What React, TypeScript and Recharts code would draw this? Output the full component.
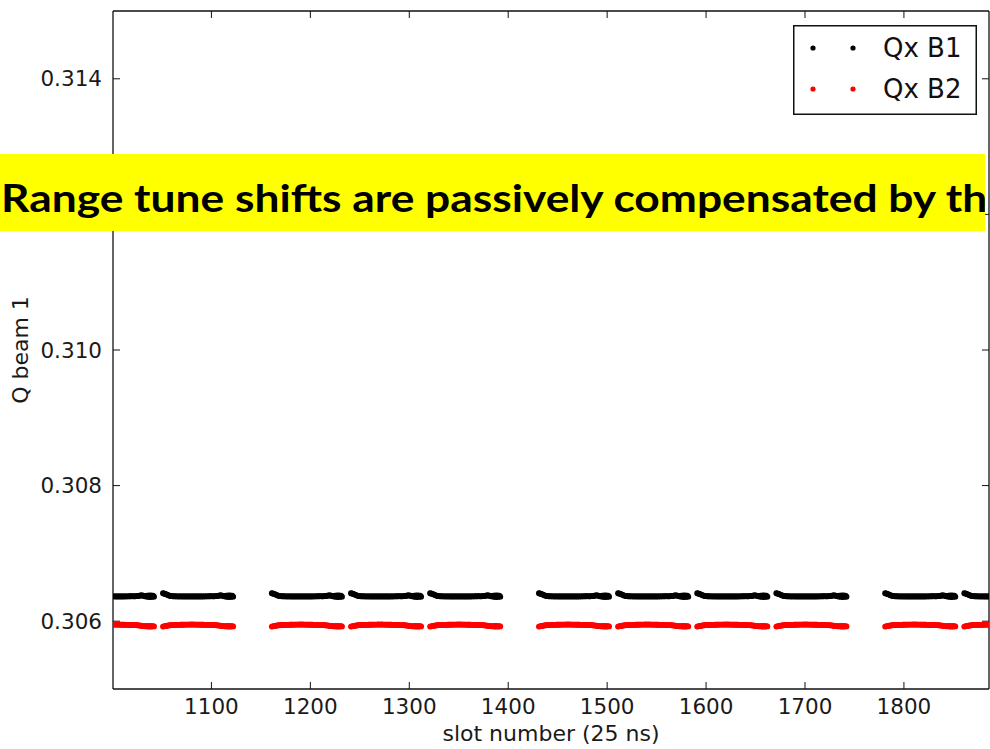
import React from 'react';
import { ScatterChart, Scatter, XAxis, YAxis, Legend } from 'recharts';

const SLOT_DOMAIN: [number, number] = [1000.5, 1886];
const Q_DOMAIN: [number, number] = [0.305, 0.315];
const SLOT_TICKS = [1100, 1200, 1300, 1400, 1500, 1600, 1700, 1800];
const Q_TICKS = [0.306, 0.308, 0.31, 0.312, 0.314];
const BATCH_STARTS = [971, 1051, 1161, 1241, 1321, 1431, 1511, 1591, 1671, 1781, 1861];

// tune of each bunch position inside a 72-bunch batch
const B1_BUNCH_Q = [
  0.306412, 0.306409, 0.306404, 0.306398, 0.306392, 0.306386, 0.30638, 0.306375, 0.306371, 0.306369,
  0.306368, 0.306367, 0.306368, 0.306367, 0.306366, 0.306367, 0.306366, 0.306366, 0.306367, 0.306366,
  0.306366, 0.306365, 0.306366, 0.306365, 0.306366, 0.306365, 0.306365, 0.306366, 0.306365, 0.306365,
  0.306365, 0.306366, 0.306365, 0.306365, 0.306366, 0.306365, 0.306366, 0.306366, 0.306365, 0.306366,
  0.306366, 0.306366, 0.306367, 0.306366, 0.306367, 0.306367, 0.306368, 0.306367, 0.306368, 0.306369,
  0.306367, 0.306367, 0.306368, 0.306369, 0.30637, 0.306372, 0.306375, 0.306379, 0.306382, 0.306381,
  0.306377, 0.306372, 0.306368, 0.306366, 0.306376, 0.306358, 0.30638, 0.306356, 0.306379, 0.306358,
  0.306377, 0.306362,
];
const B2_BUNCH_Q = [
  0.305921, 0.305924, 0.305927, 0.30593, 0.305933, 0.305936, 0.305938, 0.30594, 0.305941, 0.305942,
  0.305943, 0.305944, 0.305944, 0.305945, 0.305946, 0.305946, 0.305947, 0.305947, 0.305948, 0.305948,
  0.305949, 0.305949, 0.305949, 0.30595, 0.30595, 0.30595, 0.30595, 0.30595, 0.305951, 0.30595,
  0.30595, 0.305951, 0.30595, 0.30595, 0.30595, 0.305949, 0.30595, 0.305949, 0.305949, 0.305948,
  0.305948, 0.305948, 0.305947, 0.305947, 0.305946, 0.305946, 0.305945, 0.305945, 0.305944, 0.305944,
  0.305943, 0.305943, 0.305942, 0.305941, 0.30594, 0.305939, 0.305937, 0.305935, 0.305933, 0.305931,
  0.305929, 0.305927, 0.305925, 0.305924, 0.305931, 0.30592, 0.30593, 0.305919, 0.305929, 0.30592,
  0.305927, 0.305923,
];

const SERIES_NAMES = ['Qx B1', 'Qx B2'];
const SERIES_COLORS = ['#000000', '#ff0000'];
const X_LABEL = 'slot number (25 ns)';
const Y_LABEL = 'Q beam 1';
const BANNER_TEXT = 'Range tune shifts are passively compensated by the';

function buildBeam(profile: number[]) {
  const pts: { slot: number; q: number }[] = [];
  for (const start of BATCH_STARTS) {
    for (let i = 0; i < profile.length; i++) {
      const slot = start + i;
      if (slot >= SLOT_DOMAIN[0] && slot <= SLOT_DOMAIN[1]) pts.push({ slot, q: profile[i] });
    }
  }
  return pts;
}

const B1_POINTS = buildBeam(B1_BUNCH_Q);
const B2_POINTS = buildBeam(B2_BUNCH_Q);

const FONT = 'DejaVu Sans';
const tickStyle = { fontSize: 21.5, fill: '#1a1a1a', fontFamily: FONT };
const axisLineStyle = { stroke: '#111', strokeWidth: 1.3 };
const tickLineStyle = { stroke: '#111', strokeWidth: 1 };

const makeDot = (color: string) => (props: any) =>
  props.cx == null ? <g /> : <circle cx={props.cx} cy={props.cy} r={2.9} fill={color} />;

const renderXLabel = (props: any) => {
  const vb = props.viewBox || {};
  return (
    <text x={vb.x + vb.width / 2} y={vb.y + 52} textAnchor="middle" fontSize={22} fill="#1a1a1a" fontFamily={FONT}>
      {X_LABEL}
    </text>
  );
};

const renderYLabel = (props: any) => {
  const vb = props.viewBox || {};
  const cx = vb.x + 20;
  const cy = vb.y + vb.height / 2;
  return (
    <text x={cx} y={cy} transform={`rotate(-90 ${cx} ${cy})`} textAnchor="middle" dominantBaseline="central" fontSize={22} fill="#1a1a1a" fontFamily={FONT}>
      {Y_LABEL}
    </text>
  );
};

const renderLegend = () => (
  <svg width={184} height={90} style={{ display: 'block' }}>
    <rect x={0.75} y={0.75} width={182.5} height={88.5} fill="#fff" stroke="#111" strokeWidth={1.5} />
    {SERIES_NAMES.map((name, i) => (
      <g key={name}>
        <circle cx={20} cy={23 + i * 41} r={2.6} fill={SERIES_COLORS[i]} />
        <circle cx={60} cy={23 + i * 41} r={2.6} fill={SERIES_COLORS[i]} />
        <text x={90} y={32 + i * 41} fontSize={26} fill="#111" fontFamily={FONT}>
          {name}
        </text>
      </g>
    ))}
  </svg>
);

export default function App() {
  return (
    <div style={{ position: 'absolute', left: 0, top: 0, width: 990, height: 749, background: '#fff', overflow: 'hidden' }}>
      <ScatterChart width={990} height={749} margin={{ top: 10, right: 0, bottom: 0, left: 0 }}>
        <XAxis
          xAxisId="b"
          type="number"
          dataKey="slot"
          domain={SLOT_DOMAIN}
          ticks={SLOT_TICKS}
          interval={0}
          allowDataOverflow
          height={60}
          tickSize={-7}
          tickMargin={17}
          axisLine={axisLineStyle}
          tickLine={tickLineStyle}
          tick={tickStyle}
          label={renderXLabel}
        />
        <XAxis
          xAxisId="t"
          orientation="top"
          type="number"
          dataKey="slot"
          domain={SLOT_DOMAIN}
          ticks={SLOT_TICKS}
          interval={0}
          allowDataOverflow
          height={1}
          tickSize={-7}
          axisLine={axisLineStyle}
          tickLine={tickLineStyle}
          tickFormatter={() => ''}
        />
        <YAxis
          yAxisId="l"
          type="number"
          dataKey="q"
          domain={Q_DOMAIN}
          ticks={Q_TICKS}
          interval={0}
          allowDataOverflow
          width={113}
          tickSize={-7}
          tickMargin={18}
          axisLine={axisLineStyle}
          tickLine={tickLineStyle}
          tick={tickStyle}
          tickFormatter={(v: number) => v.toFixed(3)}
          label={renderYLabel}
        />
        <YAxis
          yAxisId="r"
          orientation="right"
          type="number"
          dataKey="q"
          domain={Q_DOMAIN}
          ticks={Q_TICKS}
          interval={0}
          allowDataOverflow
          width={1}
          tickSize={-7}
          axisLine={axisLineStyle}
          tickLine={tickLineStyle}
          tickFormatter={() => ''}
        />
        <Scatter
          name={SERIES_NAMES[0]}
          data={B1_POINTS}
          xAxisId="b"
          yAxisId="l"
          fill={SERIES_COLORS[0]}
          shape={makeDot(SERIES_COLORS[0])}
          isAnimationActive={false}
        />
        <Scatter
          name={SERIES_NAMES[1]}
          data={B2_POINTS}
          xAxisId="b"
          yAxisId="l"
          fill={SERIES_COLORS[1]}
          shape={makeDot(SERIES_COLORS[1])}
          isAnimationActive={false}
        />
        <Legend
          layout="horizontal"
          verticalAlign="middle"
          align="center"
          content={renderLegend}
          wrapperStyle={{ position: 'absolute', left: 793, top: 25, width: 184, height: 90, margin: 0, padding: 0 }}
        />
      </ScatterChart>
      <svg width={985} height={77} style={{ position: 'absolute', left: 0, top: 154, display: 'block' }}>
        <rect x={0} y={0} width={985} height={77} fill="#ffff00" />
        <text x={1} y={57.7} fontFamily="Lato" fontWeight="bold" fontSize={38} fill="#000" textLength={1010} lengthAdjust="spacingAndGlyphs">
          {BANNER_TEXT}
        </text>
      </svg>
    </div>
  );
}
